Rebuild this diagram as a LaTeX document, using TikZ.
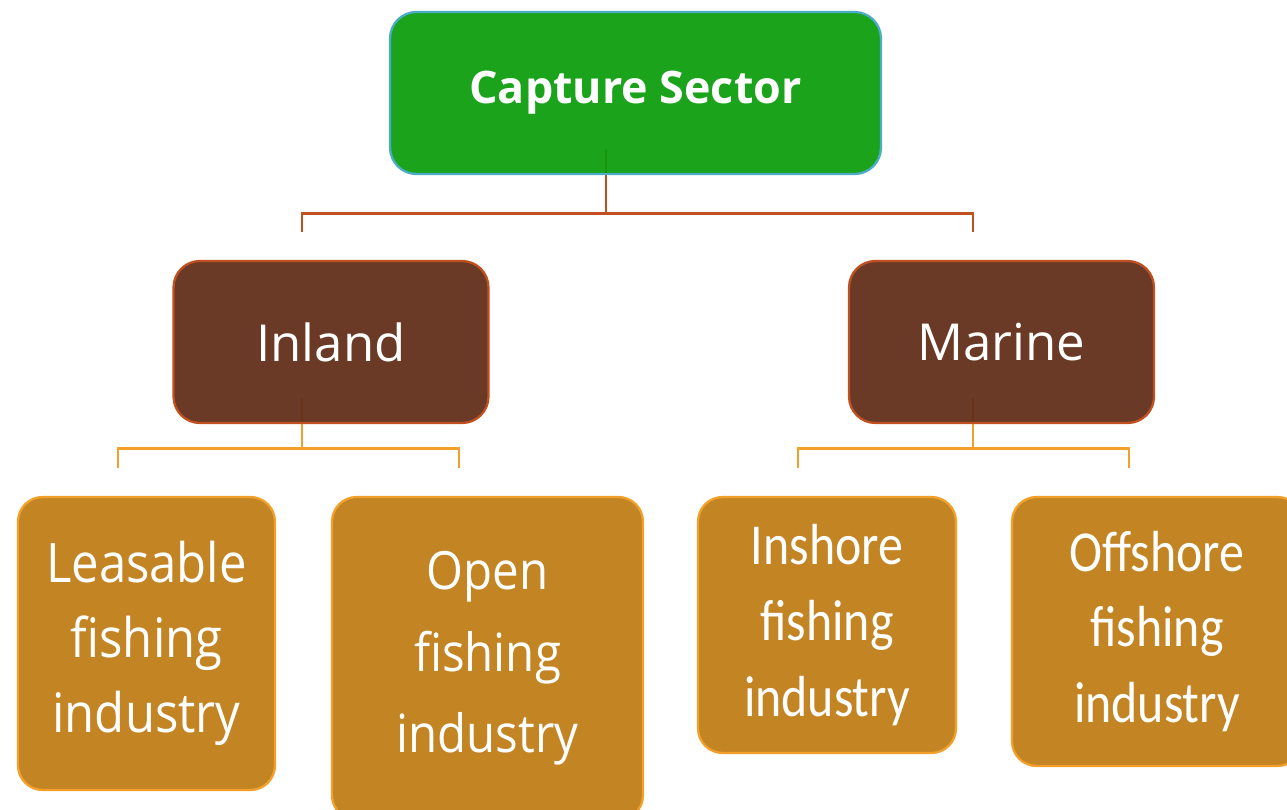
\documentclass[tikz,border=0pt]{standalone}
\usepackage{fontspec}
\setmainfont{Open Sans}
\newfontfamily\leftfont[FakeStretch=0.9]{Open Sans}
\newfontfamily\rightfont[FakeStretch=0.86]{Carlito}
\usetikzlibrary{backgrounds}

\definecolor{sectorgreen}{HTML}{0A9C0A}
\definecolor{sectoredge}{HTML}{4BACC6}
\definecolor{kindbrown}{HTML}{602B15}
\definecolor{kindedge}{HTML}{C0501F}
\definecolor{industrygold}{HTML}{C38424}
\definecolor{industryedge}{HTML}{F2A02A}

\begin{document}
\begin{tikzpicture}[x=0.02cm, y=-0.02cm,
	box/.style={rectangle, rounded corners=15pt, line width=1.3pt, text=white, align=center, inner sep=0pt},
	sectorbox/.style={box, fill=sectorgreen, draw=sectoredge, fill opacity=0.93, text opacity=1,
		minimum width=9.82cm, minimum height=3.24cm, font=\bfseries\fontsize{25.5}{30}\selectfont},
	kindbox/.style={box, fill=kindbrown, draw=kindedge, fill opacity=0.93, text opacity=1,
		minimum width=6.3cm, minimum height=3.24cm, font=\fontsize{29}{34}\selectfont},
	industrybox/.style={box, fill=industrygold, draw=industryedge, rounded corners=14pt},
	branch/.style={line width=1.6pt, line cap=rect}
]
	\useasboundingbox (0,0) rectangle (1287,810);

	% top of the tree
	\node[sectorbox] (sector) at (635.5,93) {Capture Sector};

	% second level
	\node[kindbox] (inland) at (331,342) {Inland};
	\node[kindbox, minimum width=6.1cm] (marine) at (1001.5,342) {Marine};

	% third level
	\node[industrybox, minimum width=5.14cm, minimum height=5.86cm,
		font=\leftfont\fontsize{31}{42.5}\selectfont] (leasable) at (146.5,643.5)
		{Leasable\\fishing\\industry};
	\node[industrybox, minimum width=6.22cm, minimum height=6.46cm,
		font=\leftfont\fontsize{30}{46.5}\selectfont] (open) at (487.5,658.5)
		{Open\\fishing\\industry};
	\node[industrybox, minimum width=5.16cm, minimum height=5.12cm,
		font=\rightfont\fontsize{33}{43}\selectfont] (inshore) at (827,625)
		{Inshore\\fishing\\industry};
	\node[industrybox, minimum width=5.8cm, minimum height=5.38cm,
		font=\rightfont\fontsize{33}{43}\selectfont] (offshore) at (1157,631.5)
		{Offshore\\fishing\\industry};

	% the branches run under the boxes
	\begin{scope}[on background layer]
		\coordinate (sectorstem) at ([xshift=-0.59cm, yshift=0.5cm]sector.south);
		\coordinate (inlandstem) at ([xshift=-0.58cm, yshift=0.5cm]inland.south);
		\coordinate (marinestem) at ([xshift=-0.57cm, yshift=0.5cm]marine.south);

		\draw[branch, color=kindedge] (sectorstem) -- ++(0,63) -| ([yshift=0.58cm]inland.north -| inlandstem);
		\draw[branch, color=kindedge] (sectorstem) ++(0,63) -| ([yshift=0.58cm]marine.north -| marinestem);

		\draw[branch, color=industryedge] (inlandstem) -- ++(0,49) -| ([xshift=-0.57cm, yshift=0.58cm]leasable.north);
		\draw[branch, color=industryedge] (inlandstem) ++(0,49) -| ([xshift=-0.57cm, yshift=0.58cm]open.north);
		\draw[branch, color=industryedge] (marinestem) -- ++(0,49) -| ([xshift=-0.58cm, yshift=0.58cm]inshore.north);
		\draw[branch, color=industryedge] (marinestem) ++(0,49) -| ([xshift=-0.56cm, yshift=0.58cm]offshore.north);
	\end{scope}
\end{tikzpicture}
\end{document}
